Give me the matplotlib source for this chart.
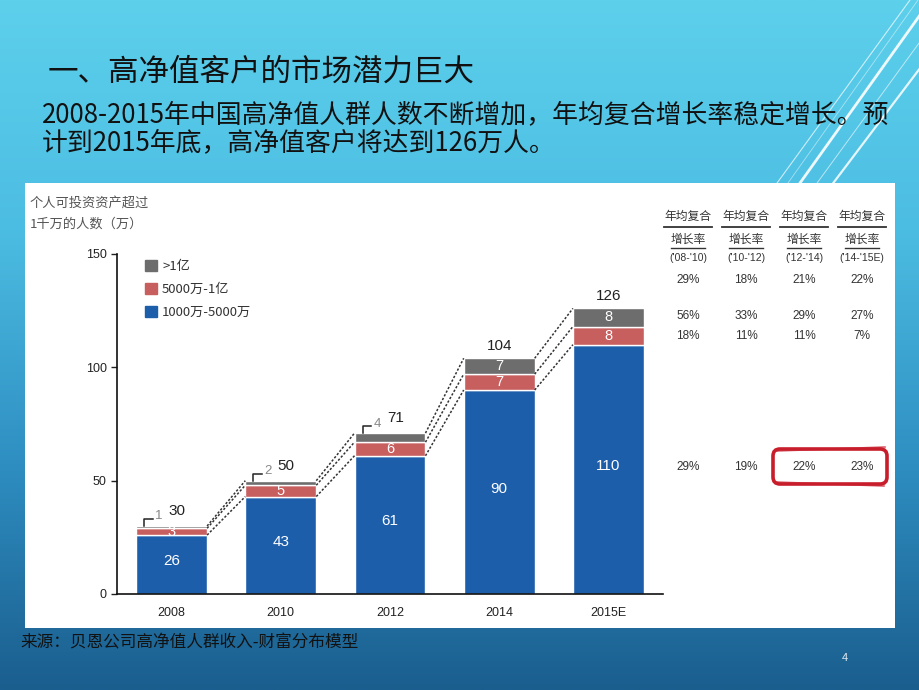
import numpy as np
import matplotlib as mpl
mpl.use('Agg')
import matplotlib.pyplot as plt
from matplotlib.colors import LinearSegmentedColormap
from matplotlib.patches import Rectangle, FancyBboxPatch, Patch

plt.rcParams['font.family'] = ['Noto Sans CJK SC', 'DejaVu Sans']
num_font = ['Liberation Sans', 'Noto Sans CJK SC']

# data
years = ['2008', '2010', '2012', '2014', '2015E']
blue = [26, 43, 61, 90, 110]     # 1000万-5000万
red = [3, 5, 6, 7, 8]            # 5000万-1亿
grey = [1, 2, 4, 7, 8]           # >1亿
totals = [30, 50, 71, 104, 126]
legend_labels = ['>1亿', '5000万-1亿', '1000万-5000万']

cagr_periods = ["('08-'10)", "('10-'12)", "('12-'14)", "('14-'15E)"]
cagr_total = ['29%', '18%', '21%', '22%']
cagr_grey = ['56%', '33%', '29%', '27%']
cagr_red = ['18%', '11%', '11%', '7%']
cagr_blue = ['29%', '19%', '22%', '23%']

title = '一、高净值客户的市场潜力巨大'
subtitle = ['2008-2015年中国高净值人群人数不断增加，年均复合增长率稳定增长。预',
            '计到2015年底，高净值客户将达到126万人。']
ylabel = ['个人可投资资产超过', '1千万的人数（万）']
source = '来源：贝恩公司高净值人群收入-财富分布模型'

c_blue = '#1D5EAB'
c_red = '#C85F5F'
c_grey = '#6D6D6D'

W, H = 920, 690
fig = plt.figure(figsize=(W/100, H/100), dpi=100)

# slide background, everything on it in pixel coords
bg = fig.add_axes([0, 0, 1, 1])
cmap = LinearSegmentedColormap.from_list('slide', ['#5DD0EC', '#4CBDE2', '#2F8FC2', '#1A5E8E'])
grad = np.linspace(0, 1, 256).reshape(-1, 1)
bg.imshow(grad, cmap=cmap, extent=[0, W, H, 0], aspect='auto')
bg.set_xlim(0, W)
bg.set_ylim(H, 0)
bg.axis('off')

# decorative diagonal lines top right
for (x0, y0, x1, y1, lw, a) in [(772, 190, 910, 0, 0.8, 0.7),
                                (783, 190, 918, 0, 0.6, 0.5),
                                (795, 190, 925, 8, 2.0, 0.9),
                                (812, 190, 930, 28, 0.7, 0.6),
                                (828, 190, 930, 55, 1.6, 0.85)]:
    bg.plot([x0, x1], [y0, y1], color='white', lw=lw, alpha=a)

bg.text(48, 72, title, fontsize=22, va='center', ha='left', color='#111')
bg.text(42, 115, subtitle[0], fontsize=18.6, va='center', ha='left', color='#111')
bg.text(42, 143, subtitle[1], fontsize=18.6, va='center', ha='left', color='#111')

# white chart panel
bg.add_patch(Rectangle((25, 183), 870, 445, facecolor='white', edgecolor='none'))

bg.text(30, 203, ylabel[0], fontsize=9.5, color='#555', va='center')
bg.text(30, 224, ylabel[1], fontsize=9.5, color='#555', va='center')

bg.text(20, 643, source, fontsize=12, color='#111', va='center')
bg.text(845, 658, '4', fontsize=8, color='#d8e4ee', va='center', ha='center')

# growth table on the right
col_x = [688, 746, 804, 862]
for j, cx in enumerate(col_x):
    bg.text(cx, 216, '年均复合', fontsize=8.5, color='#333', ha='center', va='center')
    bg.plot([cx - 24, cx + 24], [227, 227], color='#333', lw=1.3)
    bg.text(cx, 239, '增长率', fontsize=8.5, color='#333', ha='center', va='center')
    bg.plot([cx - 17, cx + 17], [248, 248], color='#333', lw=1.0)
    bg.text(cx, 258, cagr_periods[j], fontsize=7.5, color='#333', ha='center', va='center',
            family=num_font)
    for yy, row in [(280, cagr_total), (316, cagr_grey), (336, cagr_red), (467, cagr_blue)]:
        bg.text(cx, yy, row[j], fontsize=8.5, color='#333', ha='center', va='center',
                family=num_font)

# hand drawn red ring around the last two rates
ring = FancyBboxPatch((773, 449), 114, 35, boxstyle='round,pad=0,rounding_size=7',
                      facecolor='none', edgecolor='#C81E2C', lw=2.6)
bg.add_patch(ring)
bg.plot([776, 885], [451, 447], color='#C81E2C', lw=1.2, alpha=0.7)
bg.plot([775, 884], [482, 486], color='#C81E2C', lw=1.2, alpha=0.7)

# chart axes: y=0 at px 594, y=150 at px 254, x from px 117 to 663
ax = fig.add_axes([117/W, 1 - 594/H, 546/W, 340/H])
ax.set_facecolor('none')
x = np.arange(len(years))
bw = 0.65
b = np.array(blue)
r = np.array(red)
g = np.array(grey)
ax.bar(x, b, width=bw, color=c_blue, edgecolor='white', lw=1)
ax.bar(x, r, bottom=b, width=bw, color=c_red, edgecolor='white', lw=1)
ax.bar(x, g, bottom=b + r, width=bw, color=c_grey, edgecolor='white', lw=1)

# dotted connectors between bars
levels = [b, b + r, b + r + g]
for i in range(len(years) - 1):
    for lev in levels:
        ax.plot([i + bw/2, i + 1 - bw/2], [lev[i], lev[i + 1]], color='#333',
                lw=1.1, ls=(0, (1.5, 1.2)), clip_on=False)

for i in range(len(years)):
    ax.text(i, b[i]/2 + 1.5, str(blue[i]), color='white', fontsize=11,
            ha='center', va='center', family=num_font)
    ax.text(i, b[i] + r[i]/2, str(red[i]), color='white', fontsize=10.5,
            ha='center', va='center', family=num_font)
    if grey[i] >= 5:
        ax.text(i, b[i] + r[i] + g[i]/2, str(grey[i]), color='white', fontsize=10.5,
                ha='center', va='center', family=num_font)
        ax.text(i, totals[i] + 5.5, str(totals[i]), color='#222', fontsize=11,
                ha='center', va='center', family=num_font)
    else:
        # small grey segment labelled outside with a hook
        ax.plot([i - 0.25, i - 0.25, i - 0.17], [totals[i], totals[i] + 3, totals[i] + 3],
                color='#222', lw=1.1)
        ax.text(i - 0.12, totals[i] + 4.2, str(grey[i]), color='#888', fontsize=9.5,
                ha='center', va='center', family=num_font)
        ax.text(i + 0.05, totals[i] + 6.5, str(totals[i]), color='#222', fontsize=11,
                ha='center', va='center', family=num_font)

ax.set_xlim(-0.5, 4.5)
ax.set_ylim(0, 150)
ax.set_yticks([0, 50, 100, 150])
ax.tick_params(axis='y', labelsize=9, length=4, width=1, colors='#222')
for lab in ax.get_yticklabels():
    lab.set_family(num_font)
ax.set_xticks(x)
ax.set_xticklabels(years, family=num_font, fontsize=9, color='#222')
ax.tick_params(axis='x', length=0, pad=9)
ax.spines['top'].set_visible(False)
ax.spines['right'].set_visible(False)
ax.spines['left'].set_color('#111')
ax.spines['bottom'].set_color('#111')
ax.spines['left'].set_linewidth(1.2)
ax.spines['bottom'].set_linewidth(1.2)

handles = [Patch(color=c_grey), Patch(color=c_red), Patch(color=c_blue)]
leg = ax.legend(handles, legend_labels, loc='upper left', bbox_to_anchor=(145/W, 1 - 260/H),
                bbox_transform=fig.transFigure, frameon=False, fontsize=9.5,
                handlelength=0.9, handleheight=0.9, handletextpad=0.4, labelspacing=0.75,
                borderaxespad=0, borderpad=0)
for t in leg.get_texts():
    t.set_color('#333')

fig.savefig('out.png', dpi=100)
plt.close()
